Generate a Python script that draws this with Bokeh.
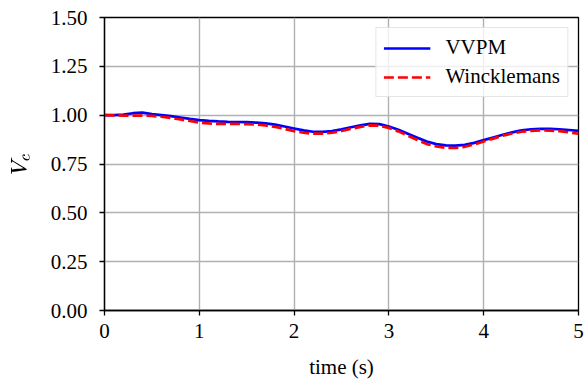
from bokeh.plotting import figure
from bokeh.models import Range1d, FixedTicker, NumeralTickFormatter, Legend, LegendItem
from bokeh.embed import file_html
from bokeh.resources import INLINE

time_s = [0.0, 0.1, 0.2, 0.3, 0.4, 0.5, 0.6, 0.7, 0.8, 0.9,
          1.0, 1.1, 1.2, 1.3, 1.4, 1.5, 1.6, 1.7, 1.8, 1.9,
          2.0, 2.1, 2.2, 2.3, 2.4, 2.5, 2.6, 2.7, 2.8, 2.9,
          3.0, 3.1, 3.2, 3.3, 3.4, 3.5, 3.6, 3.7, 3.8, 3.9,
          4.0, 4.1, 4.2, 4.3, 4.4, 4.5, 4.6, 4.7, 4.8, 4.9, 5.0]
vvpm = [1.000, 1.000, 1.003, 1.010, 1.013, 1.005, 1.000, 0.995, 0.988, 0.981,
        0.975, 0.971, 0.968, 0.966, 0.965, 0.964, 0.962, 0.958, 0.952, 0.942,
        0.932, 0.922, 0.915, 0.914, 0.918, 0.927, 0.938, 0.948, 0.955, 0.954,
        0.942, 0.925, 0.905, 0.885, 0.865, 0.852, 0.845, 0.844, 0.848, 0.858,
        0.872, 0.886, 0.900, 0.912, 0.922, 0.928, 0.930, 0.930, 0.928, 0.924, 0.920]
winck = [1.000, 0.999, 0.998, 0.998, 0.998, 0.996, 0.992, 0.986, 0.978, 0.970,
         0.962, 0.958, 0.955, 0.955, 0.955, 0.954, 0.952, 0.947, 0.940, 0.930,
         0.918, 0.910, 0.905, 0.905, 0.910, 0.919, 0.930, 0.940, 0.948, 0.946,
         0.935, 0.917, 0.895, 0.873, 0.852, 0.840, 0.833, 0.832, 0.838, 0.850,
         0.865, 0.880, 0.895, 0.906, 0.915, 0.920, 0.922, 0.921, 0.918, 0.912, 0.905]
x_ticks = [0, 1, 2, 3, 4, 5]
y_ticks = [0.0, 0.25, 0.5, 0.75, 1.0, 1.25, 1.5]

FONT = "'Liberation Serif', 'Times New Roman', serif"
FS = "21px"

p = figure(width=584, height=382, output_backend="svg", toolbar_location=None,
           x_range=Range1d(0, 5), y_range=Range1d(0, 1.5),
           min_border_left=104, min_border_right=6, min_border_top=17, min_border_bottom=72)
p.outline_line_color = "black"
p.outline_line_width = 1.3

r1 = p.line(time_s, vvpm, line_color="#0000ff", line_width=2.7)
r2 = p.line(time_s, winck, line_color="#ff0000", line_width=2.7, line_dash="10 4")

for ax in (p.xaxis[0], p.yaxis[0]):
    ax.axis_line_color = "black"
    ax.axis_line_width = 1.3
    ax.major_tick_line_color = "black"
    ax.major_tick_line_width = 1.3
    ax.major_tick_in = 0
    ax.major_tick_out = 5
    ax.minor_tick_line_color = None
    ax.major_label_text_font = FONT
    ax.major_label_text_font_size = FS
    ax.major_label_text_color = "black"
    ax.axis_label_text_font = FONT
    ax.axis_label_text_font_size = FS
    ax.axis_label_text_font_style = "normal"
    ax.axis_label_text_color = "black"

p.xaxis[0].ticker = FixedTicker(ticks=x_ticks)
p.yaxis[0].ticker = FixedTicker(ticks=y_ticks)
p.xaxis[0].formatter = NumeralTickFormatter(format="0")
p.yaxis[0].formatter = NumeralTickFormatter(format="0.00")
p.xaxis[0].major_label_standoff = 8
p.yaxis[0].major_label_standoff = 12
p.xaxis[0].axis_label = "time (s)"
p.xaxis[0].axis_label_standoff = 14
p.yaxis[0].axis_label = r"$$V_c$$"
p.yaxis[0].axis_label_standoff = 13

p.grid.grid_line_color = "#b0b0b0"
p.grid.grid_line_width = 1.4

legend = Legend(items=[LegendItem(label="VVPM", renderers=[r1]),
                       LegendItem(label="Wincklemans", renderers=[r2])],
                location="top_right")
legend.label_text_font = FONT
legend.label_text_font_size = FS
legend.label_text_color = "black"
legend.glyph_width = 47
legend.label_height = 20
legend.label_standoff = 15
legend.spacing = 4
legend.padding = 7
legend.margin = 10
legend.border_line_color = "#cccccc"
legend.border_line_width = 1.2
legend.background_fill_alpha = 0.8
p.add_layout(legend)

open("out.html", "w").write(file_html(p, INLINE))
